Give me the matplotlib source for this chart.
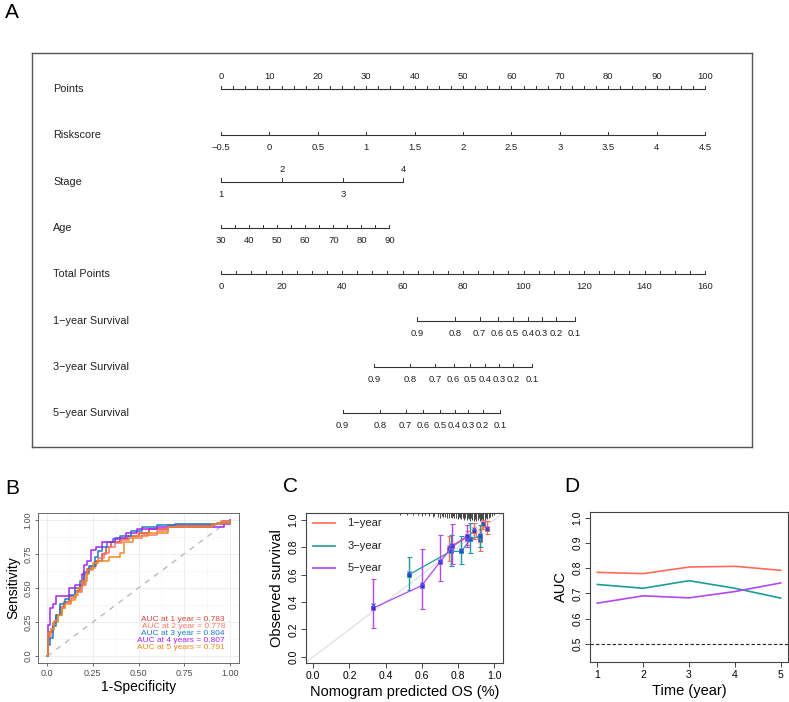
import numpy as np
import matplotlib.pyplot as plt

plt.rcParams['font.family'] = ['Liberation Sans', 'DejaVu Sans']
plt.rcParams['axes.unicode_minus'] = True

# ---------------- A: nomogram data ----------------
row_names = ['Points', 'Riskscore', 'Stage', 'Age', 'Total Points',
             '1\u2212year Survival', '3\u2212year Survival', '5\u2212year Survival']
points_major = list(range(0, 101, 10))
points_minor = list(np.arange(0, 100.1, 2.5))
risk_labels = [-0.5, 0, 0.5, 1, 1.5, 2, 2.5, 3, 3.5, 4, 4.5]
risk_range = [-0.5, 4.5]
stage_labels = ['1', '2', '3', '4']
stage_points = [0, 12.7, 25.2, 37.7]
age_labels = [30, 40, 50, 60, 70, 80, 90]
age_minor = list(range(30, 91, 5))
age_range = [30, 90]
age_pts_range = [0, 34.8]
total_major = list(range(0, 161, 20))
total_minor = list(range(0, 161, 5))
total_range = [0, 160]
surv_probs = [0.9, 0.8, 0.7, 0.6, 0.5, 0.4, 0.3, 0.2, 0.1]
surv1_total = [64.8, 77.4, 85.5, 91.4, 96.4, 101.4, 106.0, 110.8, 116.9]
surv3_total = [50.5, 62.6, 70.8, 76.9, 82.3, 87.2, 91.8, 96.6, 102.7]
surv5_total = [40.2, 52.7, 61.0, 66.9, 72.3, 77.2, 81.8, 86.5, 92.2]

# ---------------- B: ROC data ----------------
roc_fpr = {
    '1': [0, 0.005, 0.01, 0.03, 0.05, 0.07, 0.09, 0.12, 0.15, 0.18, 0.2, 0.22, 0.24, 0.27, 0.3, 0.32, 0.35, 0.4, 0.44, 0.5, 0.56, 0.66, 0.92, 0.96, 1.0],
    '2': [0, 0.005, 0.02, 0.04, 0.06, 0.08, 0.1, 0.13, 0.16, 0.19, 0.21, 0.23, 0.26, 0.28, 0.31, 0.34, 0.37, 0.41, 0.45, 0.52, 0.6, 0.66, 0.9, 0.95, 1.0],
    '3': [0, 0.005, 0.015, 0.03, 0.05, 0.07, 0.1, 0.12, 0.15, 0.18, 0.2, 0.23, 0.26, 0.28, 0.3, 0.33, 0.36, 0.4, 0.46, 0.52, 0.6, 0.7, 0.93, 1.0],
    '4': [0, 0.005, 0.015, 0.03, 0.05, 0.12, 0.15, 0.19, 0.2, 0.22, 0.24, 0.27, 0.3, 0.37, 0.43, 0.49, 0.6, 0.93, 0.97, 1.0],
    '5': [0, 0.005, 0.02, 0.04, 0.06, 0.08, 0.1, 0.13, 0.15, 0.17, 0.19, 0.22, 0.25, 0.28, 0.34, 0.4, 0.42, 0.47, 0.55, 0.66, 0.9, 0.94, 1.0],
}
roc_tpr = {
    '1': [0, 0.12, 0.18, 0.24, 0.3, 0.36, 0.4, 0.44, 0.48, 0.52, 0.6, 0.64, 0.66, 0.7, 0.75, 0.8, 0.84, 0.86, 0.88, 0.9, 0.93, 0.96, 0.97, 0.99, 1.0],
    '2': [0, 0.15, 0.2, 0.25, 0.3, 0.35, 0.4, 0.43, 0.47, 0.52, 0.6, 0.65, 0.68, 0.72, 0.76, 0.8, 0.83, 0.85, 0.87, 0.89, 0.92, 0.95, 0.97, 0.99, 1.0],
    '3': [0, 0.08, 0.13, 0.22, 0.3, 0.38, 0.42, 0.45, 0.5, 0.55, 0.62, 0.66, 0.73, 0.77, 0.8, 0.84, 0.86, 0.88, 0.92, 0.95, 0.96, 0.97, 0.98, 1.0],
    '4': [0, 0.23, 0.35, 0.38, 0.44, 0.5, 0.52, 0.6, 0.67, 0.7, 0.78, 0.8, 0.84, 0.87, 0.9, 0.93, 0.95, 0.95, 0.97, 1.0],
    '5': [0, 0.17, 0.2, 0.26, 0.3, 0.35, 0.38, 0.41, 0.45, 0.5, 0.55, 0.63, 0.68, 0.7, 0.73, 0.76, 0.84, 0.88, 0.9, 0.95, 0.97, 0.98, 1.0],
}
roc_colors = {'1': '#D9443A', '2': '#F7786B', '3': '#1F7BC8', '4': '#A326F2', '5': '#EE8A22'}
auc_text = ['AUC at 1 year = 0.783', 'AUC at 2 year = 0.778', 'AUC at 3 year = 0.804',
            'AUC at 4 years = 0.807', 'AUC at 5 years = 0.791']

# ---------------- C: calibration data ----------------
cal_names = ['1\u2212year', '3\u2212year', '5\u2212year']
cal_colors = ['#FF6A5A', '#1C9C98', '#B146F5']
cal_x = [[0.75, 0.85, 0.89, 0.92, 0.94, 0.96],
         [0.53, 0.76, 0.82, 0.87, 0.92],
         [0.33, 0.60, 0.70, 0.77, 0.85]]
cal_y = [[0.79, 0.87, 0.92, 0.85, 0.97, 0.93],
         [0.60, 0.77, 0.77, 0.86, 0.88],
         [0.355, 0.52, 0.69, 0.81, 0.88]]
cal_lo = [[0.70, 0.82, 0.86, 0.77, 0.93, 0.90],
          [0.49, 0.66, 0.68, 0.76, 0.80],
          [0.21, 0.35, 0.55, 0.68, 0.80]]
cal_hi = [[0.88, 0.92, 0.98, 0.93, 1.00, 0.99],
          [0.73, 0.89, 0.88, 0.98, 0.96],
          [0.57, 0.79, 0.89, 0.97, 0.96]]
cal_corr = [[0.80, 0.86, 0.93, 0.86, 0.98, 0.94],
            [0.61, 0.78, 0.78, 0.86, 0.89],
            [0.375, 0.53, 0.70, 0.82, 0.87]]
rug_x = [0.48, 0.52, 0.55, 0.58, 0.60, 0.62, 0.64, 0.66, 0.67, 0.69, 0.70, 0.71, 0.72,
         0.73, 0.74, 0.75, 0.76, 0.77, 0.775, 0.78, 0.79, 0.80, 0.805, 0.81, 0.82, 0.83,
         0.835, 0.84, 0.85, 0.855, 0.86, 0.87, 0.875, 0.88, 0.89, 0.895, 0.90, 0.91,
         0.915, 0.92, 0.93, 0.935, 0.94, 0.95, 0.955, 0.96, 0.97, 0.98, 0.99, 1.0]
rug_h = [0.012, 0.018, 0.015, 0.018, 0.024, 0.018, 0.024, 0.03, 0.022, 0.026, 0.035, 0.024,
         0.032, 0.03, 0.035, 0.04, 0.03, 0.037, 0.024, 0.04, 0.035, 0.045, 0.03, 0.04,
         0.045, 0.035, 0.05, 0.04, 0.05, 0.035, 0.045, 0.055, 0.04, 0.05, 0.055, 0.045,
         0.055, 0.05, 0.04, 0.055, 0.05, 0.045, 0.055, 0.05, 0.04, 0.045, 0.035, 0.03,
         0.024, 0.018]

# ---------------- D: time-dependent AUC ----------------
years = [1, 2, 3, 4, 5]
auc_red = [0.783, 0.778, 0.804, 0.807, 0.791]
auc_teal = [0.735, 0.720, 0.750, 0.720, 0.681]
auc_purple = [0.661, 0.690, 0.682, 0.707, 0.741]

W, H = 789, 702
fig = plt.figure(figsize=(W / 100, H / 100), dpi=100)


def box(l, t, r, b):
    return [l / W, 1 - b / H, (r - l) / W, (b - t) / H]


# ================= A =================
axA = fig.add_axes(box(32, 53, 752, 447))
axA.set_xlim(-39.05, 109.7)
axA.set_ylim(7.73, -0.778)
axA.set_xticks([]); axA.set_yticks([])
for s in axA.spines.values():
    s.set_color('#555555'); s.set_linewidth(1.0)

tk = 0.07
lab_off = 0.27
fs_tick = 6.8
lc = '#333333'


def scale_row(row, xs, labels, minor=None, side='below', above_idx=()):
    axA.plot([min(xs), max(xs)], [row, row], color=lc, lw=0.8)
    ticks = xs if minor is None else minor
    for x in ticks:
        axA.plot([x, x], [row, row - tk], color=lc, lw=0.7)
    for i, (x, lab) in enumerate(zip(xs, labels)):
        up = (side == 'above') or (i in above_idx)
        axA.text(x, row - lab_off if up else row + lab_off, lab, ha='center', va='center',
                 fontsize=fs_tick, color='#222222')


for i, name in enumerate(row_names):
    axA.text(-34.7, i, name, ha='left', va='center', fontsize=7.8, color='#222222')

scale_row(0, points_major, [str(v) for v in points_major], minor=points_minor, side='above')
risk_x = list(np.interp(risk_labels, risk_range, [0, 100]))
scale_row(1, risk_x, [('%g' % v).replace('-', '\u2212') for v in risk_labels])
scale_row(2, stage_points, stage_labels, above_idx=(1, 3))
age_x = list(np.interp(age_labels, age_range, age_pts_range))
scale_row(3, age_x, [str(v) for v in age_labels],
          minor=list(np.interp(age_minor, age_range, age_pts_range)))
tot_x = list(np.interp(total_major, total_range, [0, 100]))
scale_row(4, tot_x, [str(v) for v in total_major],
          minor=list(np.interp(total_minor, total_range, [0, 100])))
for r, tot in zip([5, 6, 7], [surv1_total, surv3_total, surv5_total]):
    sx = list(np.interp(tot, total_range, [0, 100]))
    scale_row(r, sx, ['%g' % p for p in surv_probs])

# ================= B =================
axB = fig.add_axes(box(38, 513, 239, 663))
axB.set_xlim(-0.05, 1.05); axB.set_ylim(-0.05, 1.05)
axB.set_xticks([0, 0.25, 0.5, 0.75, 1.0])
axB.set_xticklabels(['0.0', '0.25', '0.50', '0.75', '1.00'])
axB.set_yticks([0, 0.25, 0.5, 0.75, 1.0])
axB.set_yticklabels(['0.0', '0.25', '0.50', '0.75', '1.00'], rotation=90, va='center')
axB.set_xticks([0.125, 0.375, 0.625, 0.875], minor=True)
axB.set_yticks([0.125, 0.375, 0.625, 0.875], minor=True)
axB.grid(which='major', color='#EBEBEB', lw=0.6)
axB.grid(which='minor', color='#F4F4F4', lw=0.4)
axB.set_axisbelow(True)
axB.tick_params(which='major', labelsize=6.5, labelcolor='#4D4D4D', color='#333333',
                length=2.5, width=0.5, pad=1.5)
axB.tick_params(which='minor', length=0)
for s in axB.spines.values():
    s.set_color('#555555'); s.set_linewidth(0.6)
axB.plot([0, 1], [0, 1], color='#BBBBBB', lw=1.0, ls=(0, (4, 4)))
for k in ['1', '2', '3', '4', '5']:
    axB.plot(roc_fpr[k], roc_tpr[k], drawstyle='steps-post', color=roc_colors[k], lw=1.1)
auc_ys = [0.289, 0.243, 0.198, 0.152, 0.106]
for t, k, yy in zip(auc_text, ['1', '2', '3', '4', '5'], auc_ys):
    axB.text(0.93, yy, t, transform=axB.transAxes, ha='right', va='center',
             fontsize=6.0, color=roc_colors[k])
axB.set_xlabel('1-Specificity', fontsize=10, labelpad=2)
axB.set_ylabel('Sensitivity', fontsize=10, labelpad=2)

# ================= C =================
axC = fig.add_axes(box(306, 513, 503, 663))
axC.set_xlim(-0.04, 1.05); axC.set_ylim(-0.045, 1.05)
ticks01 = [0, 0.2, 0.4, 0.6, 0.8, 1.0]
axC.set_xticks(ticks01); axC.set_xticklabels(['%.1f' % v for v in ticks01])
axC.set_yticks(ticks01)
axC.set_yticklabels(['%.1f' % v for v in ticks01], rotation=90, va='center')
axC.tick_params(labelsize=7.5, color='#444444', length=3.5, width=0.7, pad=2)
for s in axC.spines.values():
    s.set_color('#444444'); s.set_linewidth(0.8)
axC.plot([-0.04, 1.05], [-0.04, 1.05], color='#DDDDDD', lw=0.8)
axC.vlines(rug_x, [1.05 - h for h in rug_h], 1.05, color='#444444', lw=0.7)
for i in range(3):
    c = cal_colors[i]
    axC.plot(cal_x[i], cal_y[i], color=c, lw=0.9)
    axC.errorbar(cal_x[i], cal_y[i],
                 yerr=[np.subtract(cal_y[i], cal_lo[i]), np.subtract(cal_hi[i], cal_y[i])],
                 fmt='none', ecolor=c, elinewidth=1.0, capsize=1.8, capthick=0.8)
    axC.plot(cal_x[i], cal_y[i], ls='none', marker='s', ms=3.4, mfc='#1F3FC0', mec=c, mew=0.6)
    axC.plot(cal_x[i], cal_corr[i], ls='none', marker='x', ms=3.5, mec='#3A4FE8', mew=0.8)
for i in range(3):
    yl = 0.975 - i * 0.163
    axC.plot([0.0, 0.12], [yl, yl], color=cal_colors[i], lw=1.2)
    axC.text(0.19, yl, cal_names[i], fontsize=8, va='center', color='#222222')
axC.set_xlabel('Nomogram predicted OS (%)', fontsize=10.5, labelpad=3)
axC.set_ylabel('Observed survival', fontsize=10.5, labelpad=3)

# ================= D =================
axD = fig.add_axes(box(590, 512, 788, 662))
axD.set_xlim(0.84, 5.16); axD.set_ylim(0.428, 1.022)
axD.set_xticks(years)
dt = [0.5, 0.6, 0.7, 0.8, 0.9, 1.0]
axD.set_yticks(dt); axD.set_yticklabels(['%.1f' % v for v in dt], rotation=90, va='center')
axD.tick_params(labelsize=7.5, color='#444444', length=3.5, width=0.7, pad=2)
for s in axD.spines.values():
    s.set_color('#444444'); s.set_linewidth(0.8)
axD.plot(years, auc_red, color='#FF6A5A', lw=1.2)
axD.plot(years, auc_teal, color='#1C9C98', lw=1.2)
axD.plot(years, auc_purple, color='#B146F5', lw=1.2)
axD.axhline(0.5, color='#222222', lw=0.8, ls=(0, (3, 2)))
axD.set_xlabel('Time (year)', fontsize=10.5, labelpad=3)
axD.set_ylabel('AUC', fontsize=10.5, labelpad=3)

# panel letters
for lab, x, y in [('A', 12, 13), ('B', 12, 488), ('C', 290, 486), ('D', 572, 486)]:
    fig.text(x / W, 1 - y / H, lab, fontsize=15, ha='center', va='center')

fig.savefig('out.png', dpi=100)
